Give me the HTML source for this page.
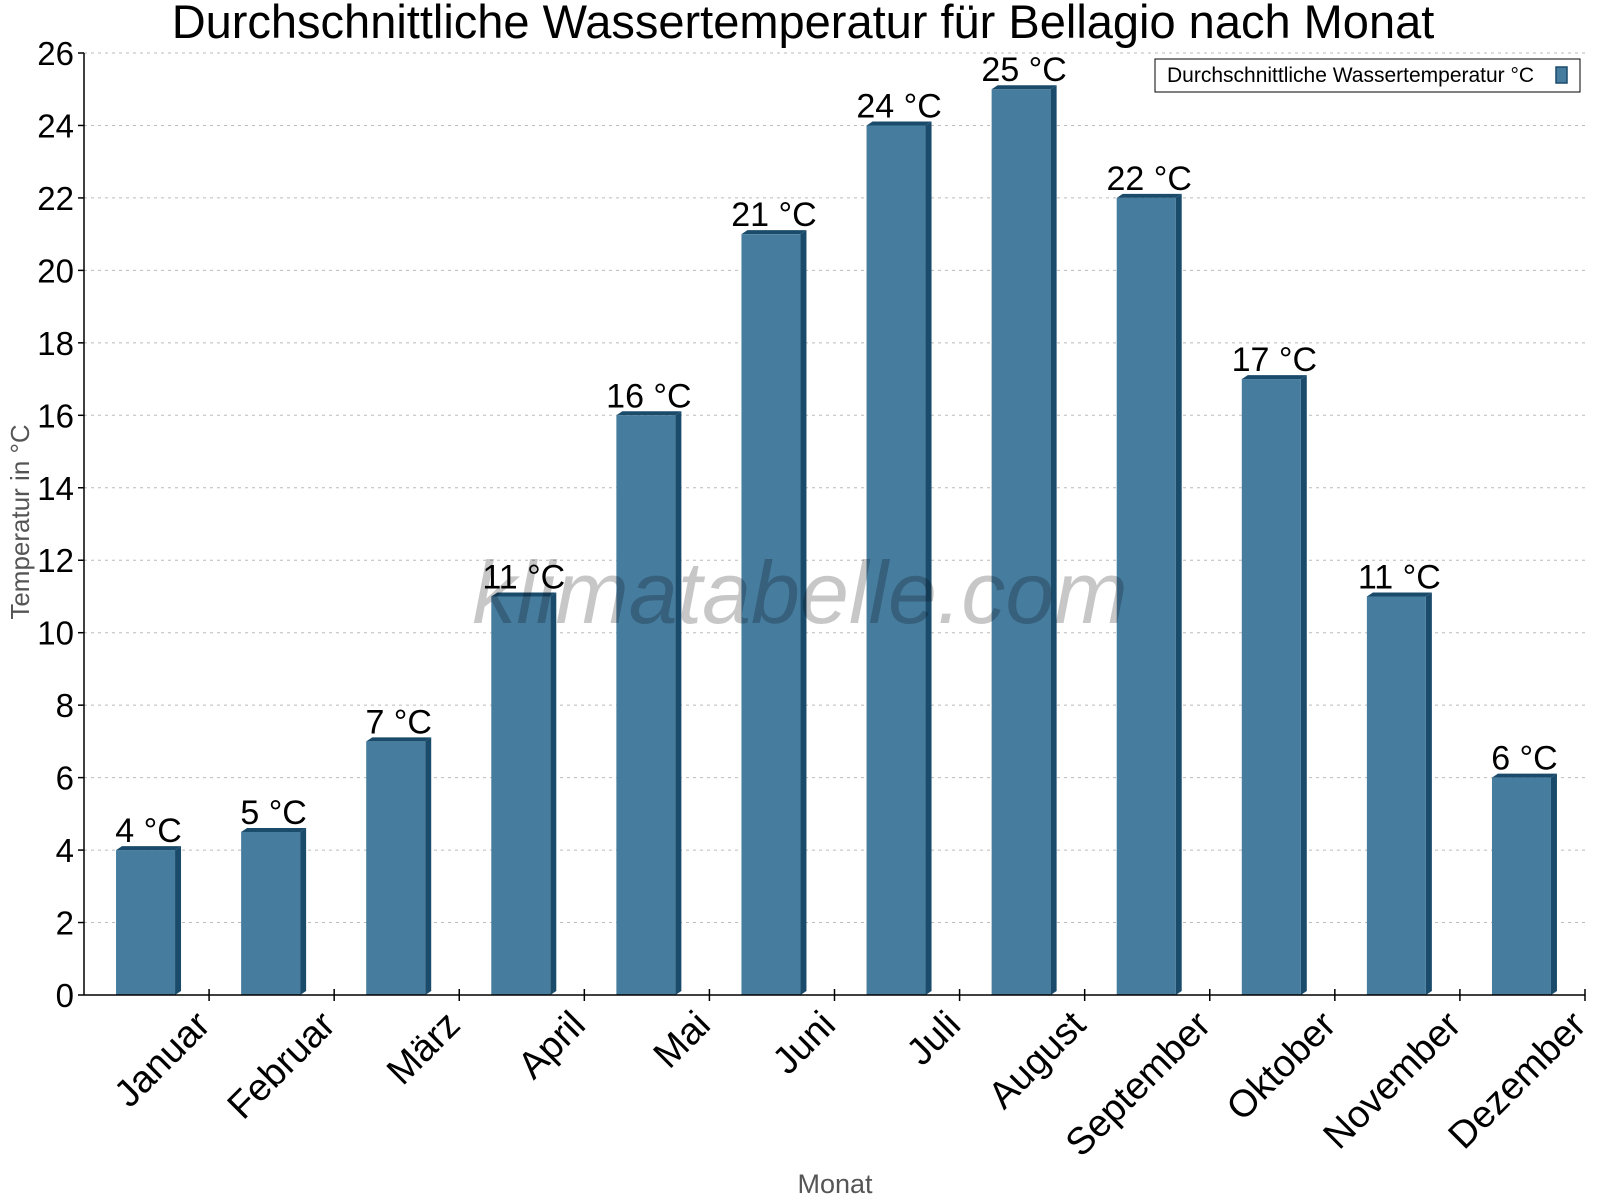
<!DOCTYPE html>
<html><head><meta charset="utf-8"><style>
html,body{margin:0;padding:0;background:#fff;}
svg{display:block;font-family:"Liberation Sans",sans-serif;}
</style></head><body>
<svg id="chart" width="1600" height="1200" viewBox="0 0 1600 1200">
<text x="803" y="38" font-size="47" text-anchor="middle">Durchschnittliche Wassertemperatur für Bellagio nach Monat</text>
<g id="grid"></g><g id="bars"></g><g id="axes"></g>
<text transform="translate(29,522) rotate(-90)" font-size="26" fill="#555" text-anchor="middle">Temperatur in °C</text>
<text x="835" y="1193" font-size="27" fill="#555" text-anchor="middle">Monat</text>
<text x="800" y="623" font-size="88" font-style="italic" fill="#000" fill-opacity="0.22" text-anchor="middle">klimatabelle.com</text>
<g>
<rect x="1155" y="59" width="425" height="33" fill="#fff" stroke="#000" stroke-width="1"/>
<text x="1167" y="82" font-size="21">Durchschnittliche Wassertemperatur °C</text>
<rect x="1556" y="67" width="11" height="16" fill="#467c9e" stroke="#1b4b6b" stroke-width="1.5"/>
</g>
</svg>
<script>
const months=["Januar","Februar","März","April","Mai","Juni","Juli","August","September","Oktober","November","Dezember"];
const values=[4,4.5,7,11,16,21,24,25,22,17,11,6];
const valueLabels=["4 °C","5 °C","7 °C","11 °C","16 °C","21 °C","24 °C","25 °C","22 °C","17 °C","11 °C","6 °C"];
const yTicks=[0,2,4,6,8,10,12,14,16,18,20,22,24,26];
const NS="http://www.w3.org/2000/svg";
const L=84,R=1585,T=53,B=995,YMAX=26;
const bw=(R-L)/months.length;
const y=v=>B-(v/YMAX)*(B-T);
const xc=i=>L+bw*(i+0.5);
function mk(tag,attrs,parent){const e=document.createElementNS(NS,tag);for(const k in attrs)e.setAttribute(k,attrs[k]);parent.appendChild(e);return e;}
const grid=document.getElementById('grid'),bars=document.getElementById('bars'),axes=document.getElementById('axes');
yTicks.forEach(t=>{
  if(t>0){const g=mk('line',{x1:L,x2:R,y1:y(t),y2:y(t),stroke:'#bbb','stroke-dasharray':'3,4','stroke-width':1},grid);
  
  }
  const tk=mk('line',{x1:L-6,x2:L,y1:y(t),y2:y(t),stroke:'#000','stroke-width':1.5},axes);
  
  
  const lb=mk('text',{x:L-10,y:y(t)+12,'font-size':33,'text-anchor':'end'},axes);
  lb.textContent=t;
  
  
});
const w=59,d=6;
values.forEach((v,i)=>{
  const x0=xc(i)-w/2-1,yt=y(v);
  const g=mk('g',{},bars);
  
  
  mk('polygon',{points:`${x0+w},${yt} ${x0+w+d},${yt-4} ${x0+w+d},${B-4} ${x0+w},${B}`,fill:'#1b4b6b'},g);
  mk('polygon',{points:`${x0},${yt} ${x0+d},${yt-4} ${x0+w+d},${yt-4} ${x0+w},${yt}`,fill:'#1b4b6b'},g);
  mk('rect',{x:x0,y:yt,width:w,height:B-yt,fill:'#467c9e'},g);
  const lb=mk('text',{x:xc(i)+2,y:yt-8,'font-size':34,'text-anchor':'middle'},bars);
  lb.textContent=valueLabels[i];
  
  
  const xl=L+bw*(i+1);
  const tk=mk('line',{x1:xl,x2:xl,y1:B-6,y2:B+6,stroke:'#000','stroke-width':1.5},axes);
  
  
  const ml=mk('text',{x:xl+3,y:B+32,'font-size':38,'text-anchor':'end',transform:`rotate(-45 ${xl+3} ${B+32})`},axes);
  ml.textContent=months[i];
  
  
});
const ya=mk('line',{x1:L,x2:L,y1:T,y2:B,stroke:'#000','stroke-width':1.5},axes);


const xa=mk('line',{x1:L,x2:R,y1:B,y2:B,stroke:'#000','stroke-width':1.5},axes);


</script>
</body></html>
